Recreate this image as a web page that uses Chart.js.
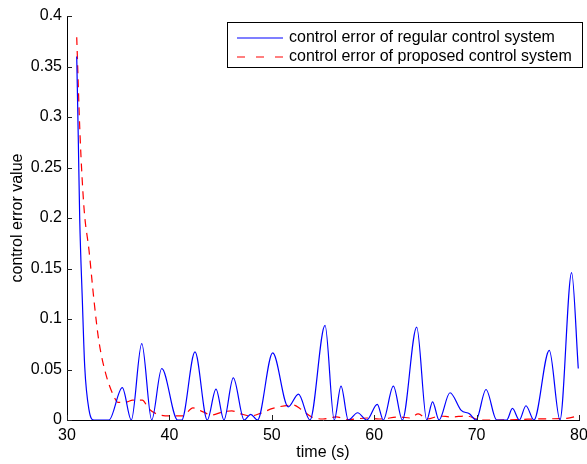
<!DOCTYPE html>
<html>
<head>
<meta charset="utf-8">
<script src="https://cdn.jsdelivr.net/npm/chart.js@4.4.1/dist/chart.umd.min.js"></script>
<style>
  html, body { margin: 0; padding: 0; background: #fff; }
  #wrap { width: 587px; height: 464px; }
</style>
</head>
<body>
<div id="wrap"><canvas id="errorChart" width="587" height="464"></canvas></div>
<script>
// values
const regularTime = [30.95, 31.1, 31.24, 31.5, 31.73, 32.15, 32.64, 34.1,
    35.4, 36.28, 37.3, 38.27, 39.25, 40.8, 41.2,
    42.5, 43.7, 44.55, 45.33, 46.24, 47.3, 47.94, 48.6,
    50.09, 51.6, 52.6, 53.73,
    55.2, 56.1, 56.76, 57.47, 58.38, 59.27, 60.3, 60.89, 61.87, 62.75,
    64.15, 65.13, 65.7, 66.33, 67.4, 68.5, 69.3, 69.94,
    70.92, 71.96, 72.94, 73.5, 74.17, 74.82, 75.6, 77.1, 78.14, 79.28, 79.93];
const regularError = [0.36, 0.28, 0.2, 0.118, 0.053, 0.01, 0, 0,
    0.032, 0, 0.0756, 0, 0.051, 0, 0,
    0.0674, 0, 0.0306, 0, 0.0417, 0, 0.0056, 0,
    0.0664, 0.013, 0.0256, 0,
    0.0937, 0, 0.0335, 0, 0.0072, 0, 0.0155, 0, 0.0335, 0,
    0.092, 0, 0.018, 0, 0.027, 0.0095, 0.0062, 0,
    0.0302, 0, 0, 0.0115, 0, 0.0141, 0, 0.069, 0, 0.146, 0.051];

const proposedTime = [30.95, 31.27, 31.66, 32.15, 32.64, 33.1, 33.78, 34.6, 35.0, 35.9,
    36.4, 37.35, 38.0, 38.76, 40.0, 41.3, 42.3, 43.3, 44.1, 45.2,
    46.1, 47.0, 47.9, 48.9, 50.1, 52.1, 52.8, 53.9, 55.0, 56.3,
    57.5, 59.3, 60.5, 62.5, 63.5, 64.3, 65.2, 66.4, 67.5, 69.0,
    70.4, 72.0, 75.0, 77.0, 78.8, 79.93];
const proposedError = [0.379, 0.283, 0.21, 0.168, 0.118, 0.079, 0.046, 0.023, 0.0174, 0.018,
    0.0197, 0.0197, 0.011, 0.006, 0.004, 0.004, 0.012, 0.008, 0.005, 0.008,
    0.009, 0.006, 0.004, 0.0066, 0.0115, 0.0148, 0.011, 0.003, 0.001, 0.003,
    0.0005, 0.002, 0.001, 0.003, 0.002, 0.006, 0.001, 0.004, 0.003, 0.004,
    0, 0, 0.0008, 0.0012, 0.0017, 0.004];

const xTicks = [30, 40, 50, 60, 70, 80];
const yTicks = [0, 0.05, 0.1, 0.15, 0.2, 0.25, 0.3, 0.35, 0.4];

const seriesNames = ['control error of regular control system', 'control error of proposed control system'];

function toPoints(xs, ys) {
    return xs.map((x, i) => ({ x: x, y: ys[i] }));
}

Chart.defaults.font.family = '"Liberation Sans", Arial, Helvetica, sans-serif';
Chart.defaults.font.size = 16;
Chart.defaults.color = '#000';

// MATLAB style ticks pointing into the axes
const innerTicks = {
    id: 'innerTicks',
    afterDatasetsDraw(chart) {
        const ctx = chart.ctx;
        const xs = chart.scales.x, ys = chart.scales.y;
        const area = chart.chartArea;
        ctx.save();
        ctx.strokeStyle = '#222';
        ctx.lineWidth = 1;
        ctx.beginPath();
        yTicks.forEach(v => {
            const py = Math.round(ys.getPixelForValue(v)) + 0.5;
            ctx.moveTo(area.left, py);
            ctx.lineTo(area.left + 5, py);
        });
        xTicks.forEach(v => {
            const px = Math.round(xs.getPixelForValue(v)) + 0.5;
            ctx.moveTo(px, area.bottom);
            ctx.lineTo(px, area.bottom - 5);
        });
        ctx.stroke();
        ctx.restore();
    }
};

// boxed legend inside the plot, top right
const boxLegend = {
    id: 'boxLegend',
    afterDraw(chart) {
        const ctx = chart.ctx;
        const box = { left: 227.5, top: 22.5, width: 355, height: 45 };
        ctx.save();
        ctx.fillStyle = '#fff';
        ctx.fillRect(box.left, box.top, box.width, box.height);
        ctx.strokeStyle = '#000';
        ctx.lineWidth = 1;
        ctx.strokeRect(box.left, box.top, box.width, box.height);
        ctx.font = '16px "Liberation Sans", Arial, Helvetica, sans-serif';
        ctx.textBaseline = 'middle';
        const rows = [38, 57];
        chart.data.datasets.forEach((ds, i) => {
            ctx.beginPath();
            ctx.strokeStyle = ds.borderColor;
            ctx.lineWidth = ds.borderWidth;
            ctx.setLineDash(i === 1 ? [8, 11] : []);
            ctx.moveTo(237, rows[i]);
            ctx.lineTo(283, rows[i]);
            ctx.stroke();
            ctx.setLineDash([]);
            ctx.fillStyle = '#000';
            ctx.fillText(ds.label, 289, rows[i]);
        });
        ctx.restore();
    }
};

new Chart(document.getElementById('errorChart'), {
    type: 'line',
    data: {
        datasets: [{
            label: seriesNames[0],
            data: toPoints(regularTime, regularError),
            borderColor: 'rgb(0,0,255)',
            borderWidth: 1.2,
            pointRadius: 0,
            cubicInterpolationMode: 'monotone',
            fill: false
        }, {
            label: seriesNames[1],
            data: toPoints(proposedTime, proposedError),
            borderColor: 'rgb(255,0,0)',
            borderWidth: 1.2,
            borderDash: [8, 6],
            pointRadius: 0,
            cubicInterpolationMode: 'monotone',
            fill: false
        }]
    },
    options: {
        responsive: false,
        animation: false,
        devicePixelRatio: 1,
        layout: { padding: { left: 0, top: 16, right: 8, bottom: 0 } },
        plugins: {
            legend: { display: false },
            tooltip: { enabled: false }
        },
        scales: {
            x: {
                type: 'linear',
                min: 30,
                max: 80,
                afterBuildTicks: s => { s.ticks = xTicks.map(v => ({ value: v })); },
                afterFit: s => { s.height = 44; s.paddingLeft = 0; s.paddingRight = 0; },
                grid: { display: true, drawOnChartArea: false, drawTicks: false },
                border: { display: true, color: '#000', width: 1 },
                ticks: { padding: 6, maxRotation: 0, autoSkip: false },
                title: { display: true, text: 'time (s)', padding: { top: 0, bottom: 2 } }
            },
            y: {
                min: 0,
                max: 0.4,
                afterBuildTicks: s => { s.ticks = yTicks.map(v => ({ value: v })); },
                afterFit: s => { s.width = 67; },
                grid: { display: true, drawOnChartArea: false, drawTicks: false },
                border: { display: true, color: '#000', width: 1 },
                ticks: { padding: 5, autoSkip: false, callback: v => String(v) },
                title: { display: true, text: 'control error value', padding: { top: 8, bottom: 0 } }
            }
        }
    },
    plugins: [innerTicks, boxLegend]
});
</script>
</body>
</html>
